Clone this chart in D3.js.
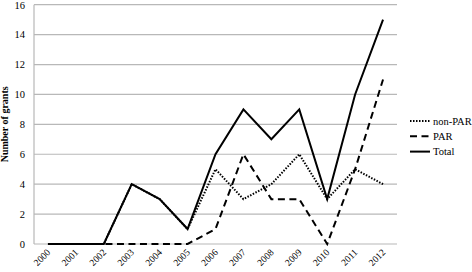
<!DOCTYPE html>
<html>
<head>
<meta charset="utf-8">
<script src="https://cdn.jsdelivr.net/npm/d3@7"></script>
<style>
  body { margin: 0; background: #fff; }
  svg text { font-family: "Liberation Serif", "DejaVu Serif", "Times New Roman", serif !important; fill: #000; }
</style>
</head>
<body>
<div id="chart"></div>
<script>
// data
var years = ["2000","2001","2002","2003","2004","2005","2006","2007","2008","2009","2010","2011","2012"];
var nonPar = [0, 0, 0, 4, 3, 1, 5, 3, 4, 6, 3, 5, 4];
var par    = [0, 0, 0, 0, 0, 0, 1, 6, 3, 3, 0, 5, 11];
var total  = [0, 0, 0, 4, 3, 1, 6, 9, 7, 9, 3, 10, 15];
var yTicks = [0, 2, 4, 6, 8, 10, 12, 14, 16];

var W = 472, H = 272;
var margin = {top: 4.7, right: 75, bottom: 28, left: 34},
    width = W - margin.left - margin.right,
    height = H - margin.top - margin.bottom;

var svg = d3.select("#chart")
  .append("svg")
    .attr("width", W)
    .attr("height", H);

var g = svg.append("g")
  .attr("transform", "translate(" + margin.left + "," + margin.top + ")");

var x = d3.scaleBand()
  .domain(years)
  .range([0, width]);

var y = d3.scaleLinear()
  .domain([0, 16])
  .range([height, 0]);

// gridlines
g.selectAll("grid")
  .data(yTicks)
  .enter()
  .append("line")
    .attr("x1", 0)
    .attr("x2", width)
    .attr("y1", function(d) { return y(d); })
    .attr("y2", function(d) { return y(d); })
    .attr("stroke", "#b8b8b8")
    .attr("stroke-width", 1.2)

// y axis line
g.append("line")
  .attr("x1", 0).attr("x2", 0)
  .attr("y1", 0).attr("y2", height)
  .attr("stroke", "#b8b8b8")
  .attr("stroke-width", 1.2)

// Y axis labels
var yAxis = g.append("g")
  .attr("font-family", null)
  .call(d3.axisLeft(y).tickValues(yTicks).tickSize(0).tickPadding(9))
yAxis.select(".domain").remove()
yAxis.attr("font-family", null)
yAxis.selectAll("text")
  .style("font-size", "10.5px")

// X axis labels
var xAxis = g.append("g")
  .attr("transform", "translate(0," + height + ")")
  .call(d3.axisBottom(x).tickSize(0))
xAxis.select(".domain").remove()
xAxis.attr("font-family", null)
xAxis.selectAll("text")
  .style("font-size", "9.5px")
  .attr("text-anchor", "end")
  .attr("dy", null)
  .attr("y", 0)
  .attr("transform", "translate(3,9) rotate(-45)")

// Lines
var line = function(vals) {
  return d3.line()
    .x(function(d, i) { return x(years[i]) + x.bandwidth() / 2; })
    .y(function(d) { return y(d); })(vals);
};

var series = [
  {name: "non-PAR", vals: nonPar, dash: "1.5,1.5"},
  {name: "PAR", vals: par, dash: "7,4.5"},
  {name: "Total", vals: total, dash: null}
];

g.selectAll("serie")
  .data(series)
  .enter()
  .append("path")
    .attr("d", function(d) { return line(d.vals); })
    .attr("fill", "none")
    .attr("stroke", "#000")
    .attr("stroke-width", 2)
    .attr("stroke-dasharray", function(d) { return d.dash; })

// Legend
var legend = svg.selectAll("legend")
  .data(series)
  .enter()
  .append("g")
    .attr("transform", function(d, i) { return "translate(410," + (121 + i * 15.3) + ")"; })

legend.append("line")
  .attr("x1", 0).attr("x2", 20)
  .attr("stroke", "#000")
  .attr("stroke-width", 2)
  .attr("stroke-dasharray", function(d) { return d.dash; })

legend.append("text")
  .attr("x", 23)
  .attr("dy", "0.35em")
  .style("font-size", "10.5px")
  .text(function(d) { return d.name; })

// Y axis title
svg.append("text")
  .attr("transform", "translate(8," + (margin.top + height / 2) + ") rotate(-90)")
  .attr("text-anchor", "middle")
  .style("font-size", "10px")
  .style("font-weight", "bold")
  .text("Number of grants")
</script>
</body>
</html>
